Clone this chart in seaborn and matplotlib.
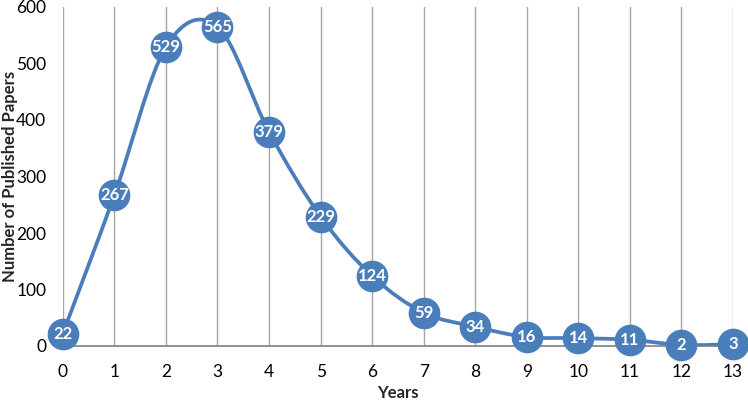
import numpy as np
import pandas as pd
import matplotlib
matplotlib.use("Agg")
import matplotlib.pyplot as plt
from matplotlib.path import Path
from matplotlib.patches import PathPatch
import seaborn as sns

years = [0, 1, 2, 3, 4, 5, 6, 7, 8, 9, 10, 11, 12, 13]
papers = [22, 267, 529, 565, 379, 229, 124, 59, 34, 16, 14, 11, 2, 3]

df = pd.DataFrame({"Years": years, "Papers": papers})

sns.set_style("white")
plt.rcParams["font.family"] = ["Lato", "DejaVu Sans"]

blue = "#4a7ebb"

fig = plt.figure(figsize=(7.48, 4.0), dpi=100)
ax = fig.add_axes([0.084, 0.135, 0.896, 0.8475])


# smoothed line like Excel (cubic bezier through the points)
def smooth_path(xs, ys):
    pts = np.column_stack([xs, ys]).astype(float)
    n = len(pts)
    verts = [pts[0]]
    codes = [Path.MOVETO]
    for i in range(n - 1):
        p0 = pts[i - 1] if i > 0 else pts[i]
        p1 = pts[i]
        p2 = pts[i + 1]
        p3 = pts[i + 2] if i + 2 < n else pts[i + 1]
        c1 = p1 + (p2 - p0) / 6.0
        c2 = p2 - (p3 - p1) / 6.0
        verts += [c1, c2, p2]
        codes += [Path.CURVE4] * 3
    return Path(verts, codes)


patch = PathPatch(smooth_path(df["Years"], df["Papers"]), fill=False,
                  edgecolor=blue, lw=2.7, zorder=3, capstyle="round")
ax.add_patch(patch)

sns.scatterplot(data=df, x="Years", y="Papers", s=520, color=blue,
                edgecolor=blue, linewidth=0, ax=ax, zorder=4, clip_on=False)

for x, y in zip(years, papers):
    ax.text(x, y, str(y), color="white", fontsize=12, fontweight="bold",
            ha="center", va="center", zorder=5)

ax.set_xlim(0, 13)
ax.set_ylim(0, 600)
ax.set_xticks(years)
ax.set_yticks(range(0, 601, 100))
ax.tick_params(axis="both", labelsize=12.5, length=0, colors="#000000")
ax.tick_params(axis="x", pad=13)
ax.tick_params(axis="y", pad=12)

ax.grid(axis="x", color="#a6a6a6", lw=1)
ax.grid(axis="y", visible=False)
ax.set_axisbelow(True)
for s in ["top", "right", "left"]:
    ax.spines[s].set_visible(False)
ax.spines["bottom"].set_color("#7f7f7f")
ax.spines["bottom"].set_linewidth(1.2)

ax.set_xlabel("Years", fontsize=12, fontweight="bold", va="center")
ax.set_ylabel("Number of Published Papers", fontsize=12, fontweight="bold",
              va="center")
ax.xaxis.set_label_coords(0.5, -0.138)
ax.yaxis.set_label_coords(-0.079, 0.5)

fig.savefig("out.png", dpi=100)
